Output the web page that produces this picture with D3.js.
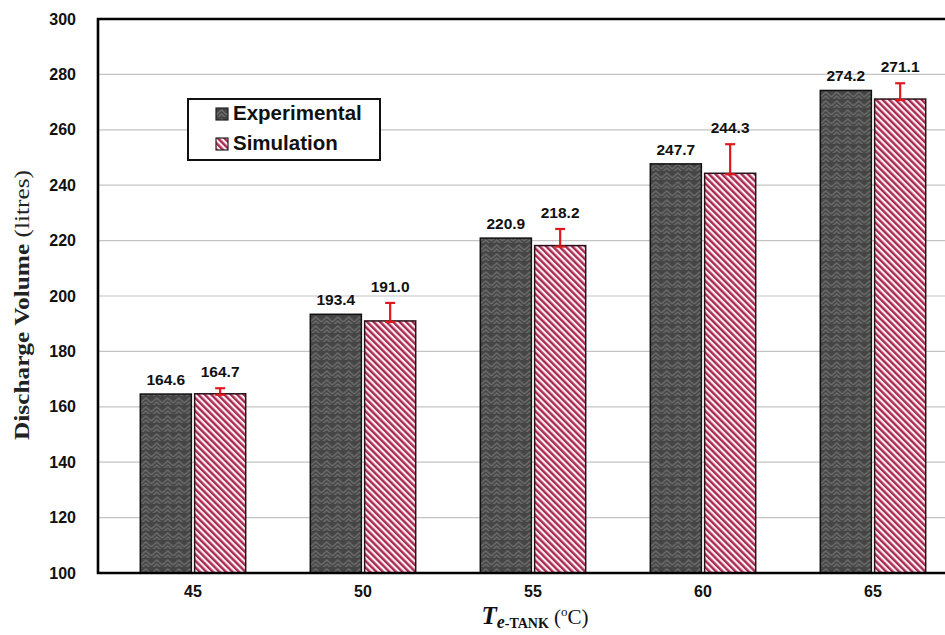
<!DOCTYPE html>
<html>
<head>
<meta charset="utf-8">
<script src="https://cdn.jsdelivr.net/npm/d3@7"></script>
<style>
  body { margin: 0; background: #fff; }
  svg { display: block; }
</style>
</head>
<body>
<script>
const categories = ["45", "50", "55", "60", "65"];
const seriesNames = ["Experimental", "Simulation"];
const experimental = [164.6, 193.4, 220.9, 247.7, 274.2];
const simulation = [164.7, 191.0, 218.2, 244.3, 271.1];
const simError = [2.0, 6.5, 6.0, 10.5, 5.7];
const yTicks = [100, 120, 140, 160, 180, 200, 220, 240, 260, 280, 300];

const dims = {
    width: 945,
    height: 635,
    left: 98,
    top: 19,
    bottom: 573,
};

const svg = d3.select("body").append("svg")
    .attr("width", dims.width)
    .attr("height", dims.height);

const defs = svg.append("defs");

// herringbone-ish texture for experimental bars
const herring = defs.append("pattern")
    .attr("id", "herring")
    .attr("patternUnits", "userSpaceOnUse")
    .attr("width", 11)
    .attr("height", 9);
herring.append("rect").attr("width", 11).attr("height", 9).attr("fill", "#454545");
herring.append("path")
    .attr("d", "M0,7 L5.5,2 L11,7 M0,11 L5.5,6 L11,11 M-5.5,2 L0,-3 M11,-3 L16.5,2")
    .attr("fill", "none")
    .attr("stroke", "#6c6c6c")
    .attr("stroke-width", 1.5);

// diagonal stripes for simulation bars
const stripes = defs.append("pattern")
    .attr("id", "stripes")
    .attr("patternUnits", "userSpaceOnUse")
    .attr("width", 4.6)
    .attr("height", 4.6)
    .attr("patternTransform", "rotate(-45)");
stripes.append("rect").attr("width", 4.6).attr("height", 4.6).attr("fill", "#fbeef2");
stripes.append("rect").attr("width", 2.4).attr("height", 4.6).attr("fill", "#a82a52");

const fills = ["url(#herring)", "url(#stripes)"];

const yScale = d3.scaleLinear()
    .domain([100, 300])
    .range([dims.bottom, dims.top]);

const xScale = d3.scaleBand()
    .domain(categories)
    .range([108, 958])
    .paddingInner(0.38)
    .paddingOuter(0.19);

const xSub = d3.scaleBand()
    .domain(seriesNames)
    .range([0, xScale.bandwidth()])
    .paddingInner(0.06);

// gridlines
svg.append("g")
    .selectAll("line")
    .data(yTicks.slice(1))
    .join("line")
    .attr("x1", dims.left)
    .attr("x2", dims.width)
    .attr("y1", d => yScale(d))
    .attr("y2", d => yScale(d))
    .attr("stroke", "#c4c4c4")
    .attr("stroke-width", 1.2);

// y axis labels
const yAxis = d3.axisLeft(yScale).tickValues(yTicks).tickSize(0).tickPadding(22);
svg.append("g")
    .attr("transform", `translate(${dims.left},0)`)
    .call(yAxis)
    .call(g => g.select(".domain").remove())
    .selectAll("text")
    .attr("font-family", "Liberation Sans, Arial, sans-serif")
    .attr("font-weight", "bold")
    .attr("font-size", 16)
    .attr("fill", "#111");

// x axis labels
const xAxis = d3.axisBottom(xScale).tickSize(0).tickPadding(13);
svg.append("g")
    .attr("transform", `translate(0,${dims.bottom})`)
    .call(xAxis)
    .call(g => g.select(".domain").remove())
    .selectAll("text")
    .attr("font-family", "Liberation Sans, Arial, sans-serif")
    .attr("font-weight", "bold")
    .attr("font-size", 16)
    .attr("fill", "#111");

// bars
const rows = categories.map((c, i) => ({
    cat: c,
    values: [
        { name: seriesNames[0], value: experimental[i], err: 0 },
        { name: seriesNames[1], value: simulation[i], err: simError[i] },
    ],
}));

const groups = svg.append("g")
    .selectAll("g")
    .data(rows)
    .join("g")
    .attr("transform", d => `translate(${xScale(d.cat)},0)`);

groups.selectAll("rect")
    .data(d => d.values)
    .join("rect")
    .attr("x", d => xSub(d.name))
    .attr("y", d => yScale(d.value))
    .attr("width", xSub.bandwidth())
    .attr("height", d => dims.bottom - yScale(d.value))
    .attr("fill", (d, i) => fills[i])
    .attr("stroke", (d, i) => i === 0 ? "#111" : "#2a1018")
    .attr("stroke-width", 1.5);

// error bars (plus direction) on simulation
const errG = groups.append("g")
    .datum(d => d.values[1])
    .attr("stroke", "#e0191e")
    .attr("stroke-width", 2.2);
errG.append("line")
    .attr("x1", d => xSub(d.name) + xSub.bandwidth() / 2)
    .attr("x2", d => xSub(d.name) + xSub.bandwidth() / 2)
    .attr("y1", d => yScale(d.value))
    .attr("y2", d => yScale(d.value + d.err));
errG.append("line")
    .attr("x1", d => xSub(d.name) + xSub.bandwidth() / 2 - 5)
    .attr("x2", d => xSub(d.name) + xSub.bandwidth() / 2 + 5)
    .attr("y1", d => yScale(d.value + d.err))
    .attr("y2", d => yScale(d.value + d.err));
errG.append("line")
    .attr("x1", d => xSub(d.name) + xSub.bandwidth() / 2 - 5)
    .attr("x2", d => xSub(d.name) + xSub.bandwidth() / 2 + 5)
    .attr("y1", d => yScale(d.value) + 1)
    .attr("y2", d => yScale(d.value) + 1);

// value labels
groups.selectAll("text.val")
    .data(d => d.values)
    .join("text")
    .attr("class", "val")
    .attr("x", d => xSub(d.name) + xSub.bandwidth() / 2)
    .attr("y", d => yScale(d.value + d.err) - (d.err ? 11 : 9))
    .attr("text-anchor", "middle")
    .attr("font-family", "Liberation Sans, Arial, sans-serif")
    .attr("font-weight", "bold")
    .attr("font-size", 15.5)
    .attr("fill", "#111")
    .text(d => d.value.toFixed(1));

// plot frame
svg.append("path")
    .attr("d", `M${dims.width + 5},${dims.top} H${dims.left} V${dims.bottom} H${dims.width + 5}`)
    .attr("fill", "none")
    .attr("stroke", "#000")
    .attr("stroke-width", 2.6);

// legend
const legend = svg.append("g").attr("transform", "translate(188,99)");
legend.append("rect")
    .attr("width", 192)
    .attr("height", 61)
    .attr("fill", "#fff")
    .attr("stroke", "#111")
    .attr("stroke-width", 2);
const items = legend.selectAll("g")
    .data(seriesNames)
    .join("g")
    .attr("transform", (d, i) => `translate(28,${9 + i * 30})`);
items.append("rect")
    .attr("width", 12)
    .attr("height", 12)
    .attr("fill", (d, i) => fills[i])
    .attr("stroke", "#222")
    .attr("stroke-width", 1.2);
items.append("text")
    .attr("x", 17)
    .attr("y", 12)
    .attr("font-family", "Liberation Sans, Arial, sans-serif")
    .attr("font-weight", "bold")
    .attr("font-size", 20.5)
    .attr("fill", "#111")
    .text(d => d);

// y title
svg.append("text")
    .attr("transform", "translate(29,305) rotate(-90)")
    .attr("text-anchor", "middle")
    .attr("font-family", "Liberation Serif, serif")
    .attr("font-size", 21)
    .attr("textLength", 270)
    .attr("lengthAdjust", "spacingAndGlyphs")
    .attr("fill", "#222")
    .call(t => {
        t.append("tspan").attr("font-weight", "bold").text("Discharge Volume ");
        t.append("tspan").text("(litres)");
    });

// x title
svg.append("text")
    .attr("x", 535)
    .attr("y", 624)
    .attr("text-anchor", "middle")
    .attr("font-family", "Liberation Serif, serif")
    .attr("fill", "#111")
    .call(t => {
        t.append("tspan").attr("font-size", 25).attr("font-weight", "bold").attr("font-style", "italic").text("T");
        t.append("tspan").attr("font-size", 18).attr("font-weight", "bold").attr("font-style", "italic").attr("dy", 4).text("e");
        t.append("tspan").attr("font-size", 14).attr("font-weight", "bold").text("-TANK");
        t.append("tspan").attr("font-size", 21).attr("dy", -4).text(" (");
        t.append("tspan").attr("font-size", 13).attr("dy", -8).text("o");
        t.append("tspan").attr("font-size", 21).attr("dy", 8).text("C)");
    });
</script>
</body>
</html>
